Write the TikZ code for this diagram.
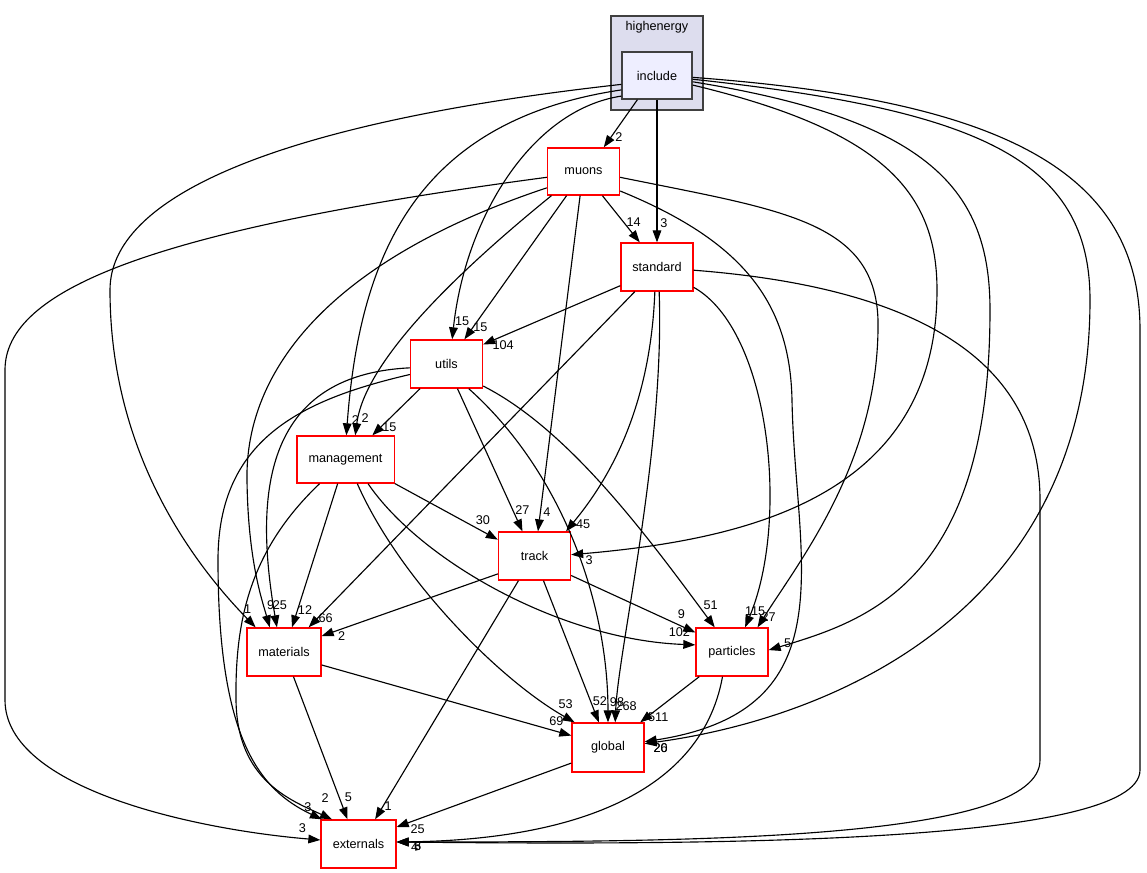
\documentclass[tikz,border=0pt]{standalone}
\usepackage{fontspec}
\setmainfont{Liberation Sans}
\usepackage{tikz}
\usetikzlibrary{arrows.meta}
\definecolor{dirred}{HTML}{FF0000}
\definecolor{clusterbg}{HTML}{DDDDEE}
\definecolor{incbg}{HTML}{EEEEFF}
\definecolor{frame}{HTML}{404040}

\begin{document}
\begin{tikzpicture}[x=0.75pt,y=-0.75pt,font=\fontsize{9.5}{11}\selectfont,
  dirnode/.style={draw=dirred,fill=white,line width=1pt,minimum width=54pt,minimum height=36pt,inner sep=0pt},
  dep/.style={line width=0.85pt,-{Triangle[length=9pt,width=6.5pt]}},
  hl/.style 2 args={inner sep=0pt,xshift={(#1)*0.75pt},yshift={(#2)*(-0.75pt)}}]
\useasboundingbox (0,0) rectangle (1147,873);

% cluster
\draw[draw=frame,fill=clusterbg,line width=1pt] (611,16) rectangle (703,110);
\node (hetitle) at (657,27) {highenergy};
\node[draw=frame,fill=incbg,line width=1pt,minimum width=52.5pt,minimum height=35.25pt,inner sep=0pt] (inc) at (657,75.5) {include};

% directories
\node[dirnode,minimum height=35.25pt] (mus) at (583.5,171.5) {muons};
\node[dirnode] (std) at (657,267) {standard};
\node[dirnode] (utl) at (446.5,364) {utils};
\node[dirnode,minimum width=73pt,minimum height=35.25pt] (mgt) at (345.5,459.5) {management};
\node[dirnode] (trk) at (534.5,556) {track};
\node[dirnode,minimum width=55.5pt] (mat) at (284,652) {materials};
\node[dirnode] (par) at (732,652) {particles};
\node[dirnode,minimum height=36.75pt] (glb) at (608,747.5) {global};
\node[dirnode,minimum width=56.25pt] (ext) at (358.5,844) {externals};

% from include
\draw[dep] (inc.231) -- (mus.50) node[hl={15}{-10}] {2};
\draw[dep] (inc.south) -- (std.north) node[hl={7}{-19}] {3};
\draw[dep] (inc.210) .. controls (530,110) and (465,220) .. (utl.77) node[hl={10}{-18}] {15};
\draw[dep] (inc.202) .. controls (420,120) and (360,250) .. (mgt.88) node[hl={9}{-15}] {2};
\draw[dep] (inc.194) .. controls (300,120) and (110,190) .. (110,290) .. controls (110,450) and (190,560) .. (mat.139) node[hl={-8}{-18}] {1};
\draw[dep] (inc.345) .. controls (880,130) and (937,190) .. (937,290) .. controls (937,500) and (740,540) .. (trk.2) node[hl={18}{5}] {3};
\draw[dep] (inc.350) .. controls (930,120) and (990,190) .. (990,310) .. controls (990,580) and (870,620) .. (par.3) node[hl={19}{-7}] {5};
\draw[dep] (inc.354) .. controls (980,110) and (1090,160) .. (1090,300) .. controls (1090,620) and (820,720) .. (glb.6) node[hl={16}{4}] {20};
\draw[dep] (inc.357) .. controls (1000,100) and (1140,170) .. (1140,330) -- (1140,770) .. controls (1140,845) and (700,845) .. (ext.3) node[hl={21}{4}] {3};

% from muons
\draw[dep] (mus.308) -- (std.125) node[hl={-6}{-20}] {14};
\draw[dep] (mus.235) -- (utl.54) node[hl={16}{-12}] {15};
\draw[dep] (mus.217) .. controls (460,270) and (365,360) .. (mgt.68) node[hl={10}{-17}] {2};
\draw[dep] (mus.262) -- (trk.82) node[hl={9}{-19}] {4};
\draw[dep] (mus.204) .. controls (330,260) and (245,370) .. (247,480) .. controls (248,560) and (262,600) .. (mat.120) node[hl={1}{-22}] {9};
\draw[dep] (mus.351) .. controls (780,210) and (875,220) .. (878,320) .. controls (880,460) and (800,560) .. (par.44) node[hl={11}{-10}] {27};
\draw[dep] (mus.332) .. controls (740,240) and (790,300) .. (792,400) .. controls (795,560) and (850,710) .. (glb.9) node[hl={16}{6}] {26};
\draw[dep] (mus.189) .. controls (150,230) and (5,290) .. (5,370) -- (5,700) .. controls (5,790) and (200,830) .. (ext.174) node[hl={-18}{-12}] {3};

% from standard
\draw[dep] (std.207) -- (utl.28) node[hl={20}{1}] {104};
\draw[dep] (std.228) -- (mat.45) node[hl={17}{-9}] {66};
\draw[dep] (std.265) .. controls (650,420) and (600,490) .. (trk.38) node[hl={17}{-7}] {45};
\draw[dep] (std.331) .. controls (770,330) and (790,520) .. (par.62) node[hl={10}{-16}] {115};
\draw[dep] (std.275) .. controls (665,450) and (618,650) .. (glb.74) node[hl={11}{-16}] {268};
\draw[dep] (std.355) .. controls (950,290) and (1040,380) .. (1040,500) -- (1040,760) .. controls (1040,840) and (700,842) .. (ext.3) node[hl={21}{4}] {6};

% from utils
\draw[dep] (utl.223) -- (mgt.42) node[hl={17}{-8}] {15};
\draw[dep] (utl.294) -- (trk.116) node[hl={0}{-21}] {27};
\draw[dep] (utl.186) .. controls (260,375) and (255,500) .. (mat.106) node[hl={3}{-22}] {25};
\draw[dep] (utl.329) .. controls (570,430) and (650,540) .. (par.125) node[hl={-4}{-22}] {51};
\draw[dep] (utl.312) .. controls (560,470) and (608,600) .. (glb.north) node[hl={9}{-20}] {98};
\draw[dep] (utl.196) .. controls (300,400) and (218,440) .. (218,560) .. controls (218,740) and (260,790) .. (ext.146) node[hl={-14}{-12}] {3};

% from management
\draw[dep] (mgt.334) -- (trk.156) node[hl={-15}{-20}] {30};
\draw[dep] (mgt.252) -- (mat.72) node[hl={13}{-17}] {12};
\draw[dep] (mgt.313) .. controls (420,560) and (560,640) .. (par.169) node[hl={-16}{-13}] {102};
\draw[dep] (mgt.296) .. controls (400,580) and (500,680) .. (glb.143) node[hl={-9}{-18}] {53};
\draw[dep] (mgt.223) .. controls (250,550) and (235,620) .. (236,700) .. controls (237,780) and (290,800) .. (ext.137) node[hl={-7}{-21}] {2};

% from track
\draw[dep] (trk.206) -- (mat.23) node[hl={20}{0}] {2};
\draw[dep] (trk.332) -- (par.152) node[hl={-14}{-18}] {9};
\draw[dep] (trk.290) -- (glb.110) node[hl={1}{-21}] {52};
\draw[dep] (trk.237) -- (ext.56) node[hl={13}{-13}] {1};

% from materials
\draw[dep] (mat.341) -- (glb.162) node[hl={-15}{-14}] {69};
\draw[dep] (mat.291) -- (ext.114) node[hl={1}{-22}] {5};

% from particles
\draw[dep] (par.217) -- (glb.38) node[hl={18}{-5}] {511};
\draw[dep] (par.249) .. controls (700,800) and (560,840) .. (ext.3) node[hl={18}{5}] {4};

% from global
\draw[dep] (glb.203) -- (ext.24) node[hl={21}{2}] {25};
\end{tikzpicture}
\end{document}
